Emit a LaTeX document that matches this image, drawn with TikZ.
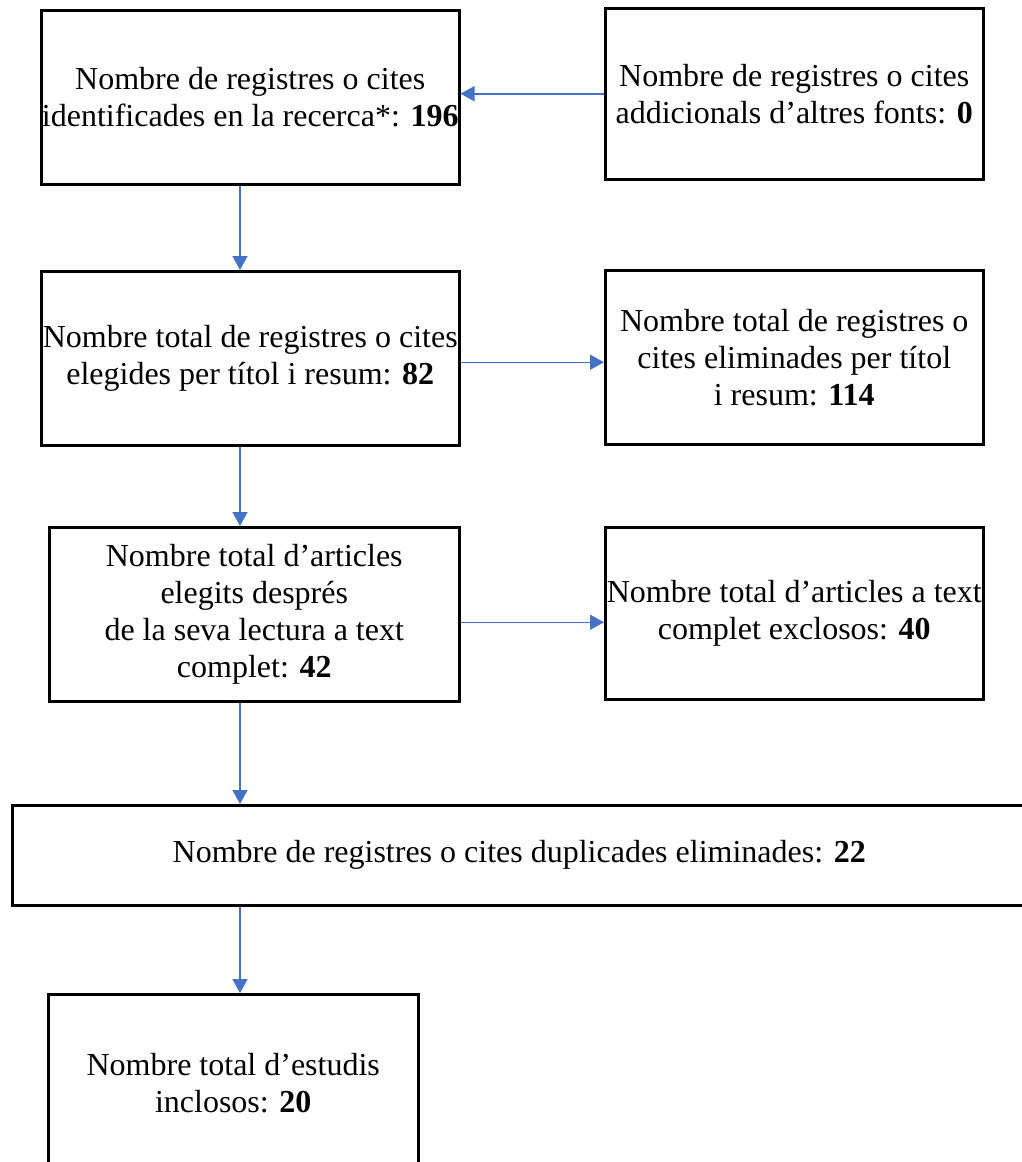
\documentclass[tikz,border=0pt]{standalone}
\usepackage{fontspec}
\setmainfont{Liberation Serif}
\usepackage{xcolor}
\usepackage{tikz}
\usetikzlibrary{positioning, arrows.meta}

\definecolor{flowblue}{HTML}{4472C4}

\begin{document}
\begin{tikzpicture}[x=1pt, y=-1pt,
    box/.style={draw, line width=2.5pt, anchor=north west, align=center, inner sep=0pt,
      font=\fontsize{32}{37}\selectfont},
    flow/.style={flowblue, line width=1.5pt, -{Triangle[length=14pt, width=15pt]}}]
    % page frame, the wide box and the last box run off the page
    \clip (0,0) rectangle (1022,1162);
    \coordinate (spine) at (240,0);

    % selection boxes
    \node[box, minimum width=418pt, minimum height=174pt] (ident) at (40,9)
      {Nombre de registres o cites\\identificades en la recerca*: \textbf{196}};
    \node[box, minimum width=378pt, minimum height=171pt] (addic) at (604,7)
      {Nombre de registres o cites\\addicionals d’altres fonts: \textbf{0}};
    \node[box, minimum width=418pt, minimum height=174pt] (elegides) at (40,270)
      {Nombre total de registres o cites\\elegides per títol i resum: \textbf{82}};
    \node[box, minimum width=378pt, minimum height=174pt] (eliminades) at (604,269)
      {Nombre total de registres o\\cites eliminades per títol\\i resum: \textbf{114}};
    \node[box, minimum width=410pt, minimum height=174pt] (articles) at (48,526)
      {Nombre total d’articles\\elegits després\\de la seva lectura a text\\complet: \textbf{42}};
    \node[box, minimum width=378pt, minimum height=172pt] (exclosos) at (604,526)
      {Nombre total d’articles a text\\complet exclosos: \textbf{40}};
    \node[box, minimum width=1014pt, minimum height=100pt] (duplicades) at (11,804)
      {Nombre de registres o cites duplicades eliminades: \textbf{22}};
    \node[box, minimum width=370pt, minimum height=178pt] (inclosos) at (47,993)
      {Nombre total d’estudis\\inclosos: \textbf{20}};

    % connectors
    \draw[flow] (addic.west) -- (ident.east |- addic.west);
    \draw[flow] (ident.south -| spine) -- (elegides.north -| spine);
    \draw[flow] ([yshift=-4pt]elegides.east) -- ([yshift=-4pt]eliminades.west |- elegides.east);
    \draw[flow] (elegides.south -| spine) -- (articles.north -| spine);
    \draw[flow] ([yshift=-8pt]articles.east) -- ([yshift=-8pt]exclosos.west |- articles.east);
    \draw[flow] (articles.south -| spine) -- (duplicades.north -| spine);
    \draw[flow] (duplicades.south -| spine) -- (inclosos.north -| spine);
\end{tikzpicture}
\end{document}
